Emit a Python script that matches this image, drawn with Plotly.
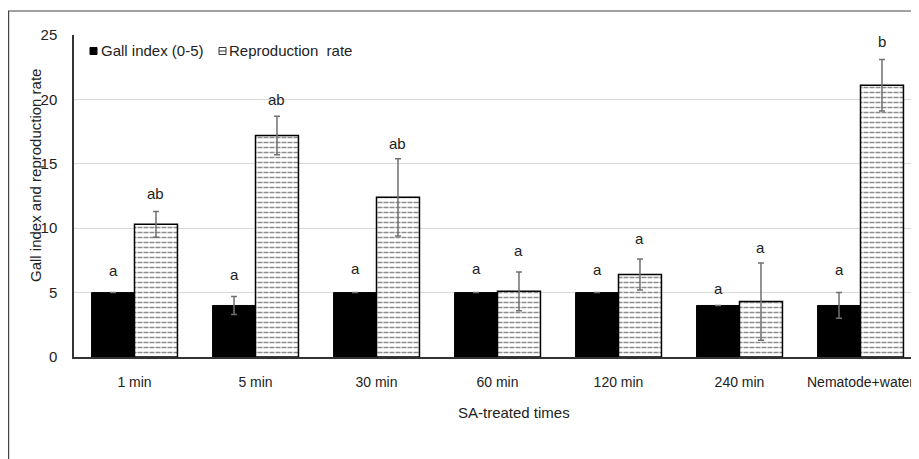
import plotly.graph_objects as go

categories = ["1 min", "5 min", "30 min", "60 min", "120 min", "240 min", "Nematode+water"]
gall_index = [5, 4, 5, 5, 5, 4, 4]
gall_err = [0, 0.7, 0, 0, 0, 0, 1.0]
repro_rate = [10.3, 17.2, 12.4, 5.1, 6.4, 4.3, 21.1]
repro_err = [1.0, 1.5, 3.0, 1.5, 1.2, 3.0, 2.0]
gall_letters = ["a", "a", "a", "a", "a", "a", "a"]
gall_letter_y = [6.7, 6.4, 6.9, 6.9, 6.8, 5.3, 6.8]
repro_letters = ["ab", "ab", "ab", "a", "a", "a", "b"]
repro_letter_y = [12.7, 20.0, 16.6, 8.3, 9.2, 8.5, 24.5]

FONT = "Liberation Sans, Arial, sans-serif"
TXT = "#222222"
# the page body has an 8px margin, so the figure is drawn 8px in from the window edge
W, H = 911, 451
L, T = 66, 27
PB = 349                      # pixel row of the x axis
B = H - PB
plot_w = W - L
plot_h = PB - T
unit = 121.0
xmax = -0.5 + plot_w / unit
BW = 0.355


def px(xp):
    return (xp - L) / plot_w


def py(yp):
    return (PB - yp) / plot_h


fig = go.Figure()
fig.add_trace(go.Bar(
    x=categories, y=gall_index, width=BW, offset=-BW, showlegend=False,
    marker=dict(color="black", line=dict(color="black", width=1)),
    error_y=dict(type="data", array=gall_err, color="#707070", thickness=1.5, width=3),
))
fig.add_trace(go.Bar(
    x=categories, y=repro_rate, width=BW, offset=0, showlegend=False,
    marker=dict(color="white", line=dict(width=0),
                pattern=dict(shape="-", fgcolor="#1a1a1a", bgcolor="white", size=5, solidity=0.3)),
))
fig.add_trace(go.Bar(
    x=categories, y=repro_rate, width=BW, offset=0, showlegend=False,
    marker=dict(color="rgba(0,0,0,0)", line=dict(width=0),
                pattern=dict(shape="|", fgcolor="white", bgcolor="rgba(0,0,0,0)", size=6, solidity=0.34)),
))
fig.add_trace(go.Bar(
    x=categories, y=repro_rate, width=BW, offset=0, showlegend=False,
    marker=dict(color="rgba(0,0,0,0)", line=dict(color="black", width=1.5)),
    error_y=dict(type="data", array=repro_err, color="#707070", thickness=1.5, width=3),
))

for c, t, y in zip(categories, gall_letters, gall_letter_y):
    fig.add_annotation(x=c, y=y, text=t, showarrow=False, xshift=-BW * unit / 2,
                       font=dict(family=FONT, size=15, color=TXT))
for c, t, y in zip(categories, repro_letters, repro_letter_y):
    fig.add_annotation(x=c, y=y, text=t, showarrow=False, xshift=BW * unit / 2,
                       font=dict(family=FONT, size=15, color=TXT))

# axis titles
fig.add_annotation(xref="paper", yref="paper", x=px(506), y=py(404), text="SA-treated times",
                   showarrow=False, xanchor="center", yanchor="middle",
                   font=dict(family=FONT, size=15, color=TXT))
fig.add_annotation(xref="paper", yref="paper", x=px(27), y=py(168), text="Gall index and reproduction rate",
                   showarrow=False, textangle=-90, xanchor="center", yanchor="middle",
                   font=dict(family=FONT, size=15, color=TXT))

# legend (drawn by hand to match the compact Excel legend)
fig.add_shape(type="rect", xref="paper", yref="paper", x0=px(82), x1=px(89), y0=py(46.5), y1=py(39.5),
              line=dict(color="black", width=1), fillcolor="black")
fig.add_annotation(xref="paper", yref="paper", x=px(91), y=py(43), text="Gall index (0-5)",
                   showarrow=False, xanchor="left", yanchor="middle",
                   font=dict(family=FONT, size=15, color=TXT))
fig.add_shape(type="rect", xref="paper", yref="paper", x0=px(211), x1=px(218), y0=py(46.5), y1=py(39.5),
              line=dict(color="#333", width=1), fillcolor="white")
fig.add_shape(type="line", xref="paper", yref="paper", x0=px(211), x1=px(218), y0=py(43), y1=py(43),
              line=dict(color="#333", width=1))
fig.add_annotation(xref="paper", yref="paper", x=px(219), y=py(43), text="Reproduction\u00a0 rate",
                   showarrow=False, xanchor="left", yanchor="middle",
                   font=dict(family=FONT, size=15, color=TXT))

# outer chart border
fig.add_shape(type="rect", xref="paper", yref="paper",
              x0=px(0.6), x1=px(W + 20), y0=py(H + 20), y1=py(3),
              line=dict(color="#444", width=1.2), fillcolor="rgba(0,0,0,0)", layer="below")

fig.update_layout(
    width=W, height=H,
    margin=dict(l=L, r=0, t=T, b=B, pad=0),
    paper_bgcolor="white", plot_bgcolor="white",
    barmode="overlay",
    font=dict(family=FONT, size=15, color=TXT),
    showlegend=False,
    xaxis=dict(range=[-0.5, xmax], showgrid=False, showline=True, linecolor="#333",
               linewidth=1.5, ticks="", tickfont=dict(size=14), ticklabelstandoff=11),
    yaxis=dict(range=[0, 25], dtick=5, showgrid=True, gridcolor="#d9d9d9", gridwidth=1,
               showline=True, linecolor="#333", linewidth=1.5, ticks="", zeroline=False,
               tickfont=dict(size=15), ticklabelstandoff=12),
)

fig.write_html("out.html")
